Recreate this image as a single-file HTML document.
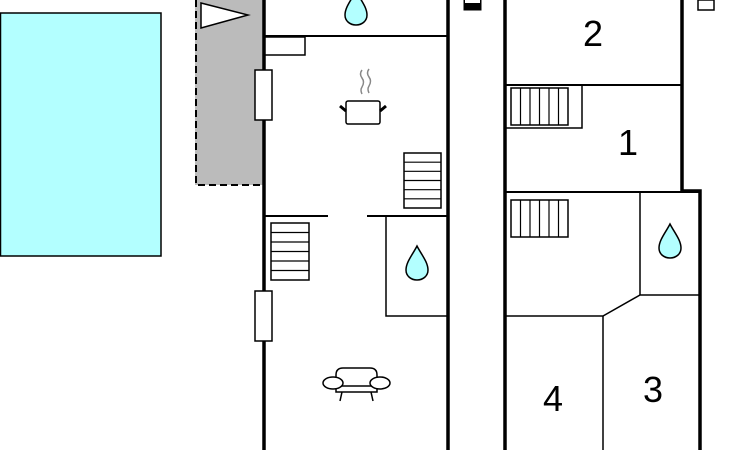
<!DOCTYPE html>
<html><head><meta charset="utf-8"><style>
html,body{margin:0;padding:0;background:#fff;}
svg{display:block;}
text{font-family:"Liberation Sans",sans-serif;}
</style></head><body>
<svg width="730" height="450" viewBox="0 0 730 450" xmlns="http://www.w3.org/2000/svg">
<defs>
<path id="drop" d="M0,-16 C4,-8 11,0 11,8 C11,14 6,18 0,18 C-6,18 -11,14 -11,8 C-11,0 -4,-8 0,-16 Z" fill="#b3ffff" stroke="#000" stroke-width="1.5"/>
</defs>
<!-- pool -->
<rect x="0.5" y="13" width="160.5" height="243" fill="#b3ffff" stroke="#000" stroke-width="1.5"/>
<!-- terrace -->
<rect x="195" y="0" width="68" height="185" fill="#bbb"/>
<path d="M196,0 V185 H262" fill="none" stroke="#000" stroke-width="2" stroke-dasharray="7,4"/>
<polygon points="201,3 248,15 201,28" fill="#fff" stroke="#000" stroke-width="1.5"/>
<!-- left building -->
<g stroke="#000" fill="none">
<line x1="264" y1="0" x2="264" y2="450" stroke-width="3.5"/>
<line x1="448" y1="0" x2="448" y2="450" stroke-width="3.5"/>
<line x1="264" y1="36" x2="448" y2="36" stroke-width="2"/>
<rect x="264" y="37" width="41" height="18" stroke-width="1.5"/>
<rect x="255" y="70" width="17" height="50" fill="#fff" stroke-width="1.5"/>
<rect x="255" y="291" width="17" height="50" fill="#fff" stroke-width="1.5"/>
<line x1="264" y1="216" x2="328" y2="216" stroke-width="2"/>
<line x1="367" y1="216" x2="448" y2="216" stroke-width="2"/>
<rect x="386" y="216" width="62" height="100" stroke-width="1.5"/>
<rect x="404" y="153" width="37" height="55" stroke-width="1.5"/>
<path d="M404,162.2 H441 M404,171.3 H441 M404,180.5 H441 M404,189.7 H441 M404,198.8 H441" stroke-width="1.2"/>
<rect x="271" y="223" width="38" height="57" stroke-width="1.5"/>
<path d="M271,232.5 H309 M271,242 H309 M271,251.5 H309 M271,261 H309 M271,270.5 H309" stroke-width="1.2"/>
</g>
<!-- pot -->
<g stroke="#000" fill="none">
<rect x="346" y="101" width="34" height="23" rx="2" stroke-width="1.5" fill="#fff"/>
<line x1="340" y1="106" x2="346" y2="111" stroke-width="3"/>
<line x1="386" y1="106" x2="380" y2="111" stroke-width="3"/>
<path d="M362,70 q-3,4 0,8 q3,4 0,9 q-2,3 0,7 M369,69 q-3,4 0,8 q3,4 0,9 q-2,3 0,7" stroke="#888" stroke-width="1.5"/>
</g>
<!-- armchair -->
<g stroke="#000" fill="#fff" stroke-width="1.5">
<path d="M336,392 V375 q0,-7 7,-7 H370 q7,0 7,7 V392 Z"/>
<line x1="336" y1="386" x2="377" y2="386"/>
<ellipse cx="333" cy="383" rx="10" ry="6"/>
<ellipse cx="380" cy="383" rx="10" ry="6"/>
<line x1="342" y1="392" x2="340" y2="401"/>
<line x1="371" y1="392" x2="373" y2="401"/>
</g>
<use href="#drop" x="356" y="7"/>
<use href="#drop" x="417" y="262"/>
<!-- devices -->
<rect x="464" y="0" width="17" height="10" fill="#000" stroke="#000"/>
<rect x="465" y="0" width="15" height="3" fill="#fff"/>
<rect x="698" y="0" width="16" height="10" fill="#fff" stroke="#000" stroke-width="1.5"/>
<!-- right building -->
<g stroke="#000" fill="none">
<line x1="505" y1="0" x2="505" y2="450" stroke-width="3.5"/>
<path d="M682,0 V191 H700 V450" stroke-width="3.5"/>
<line x1="505" y1="85" x2="682" y2="85" stroke-width="2"/>
<path d="M505,128 H582 V85" stroke-width="1.5"/>
<rect x="511" y="88" width="57" height="37" stroke-width="1.5"/>
<path d="M520.5,88 V125 M530,88 V125 M539.5,88 V125 M549,88 V125 M558.5,88 V125" stroke-width="1.2"/>
<line x1="505" y1="192" x2="700" y2="192" stroke-width="2"/>
<line x1="640" y1="192" x2="640" y2="295" stroke-width="1.5"/>
<rect x="511" y="200" width="57" height="37" stroke-width="1.5"/>
<path d="M520.5,200 V237 M530,200 V237 M539.5,200 V237 M549,200 V237 M558.5,200 V237" stroke-width="1.2"/>
<path d="M505,316 H603 L640,295 H700" stroke-width="1.5"/>
<line x1="603" y1="316" x2="603" y2="450" stroke-width="1.5"/>
</g>
<use href="#drop" x="670" y="240"/>
<text x="593" y="46" font-size="36" text-anchor="middle">2</text>
<text x="628" y="155" font-size="36" text-anchor="middle">1</text>
<text x="553" y="411" font-size="36" text-anchor="middle">4</text>
<text x="653" y="402" font-size="36" text-anchor="middle">3</text>
</svg>
</body></html>
